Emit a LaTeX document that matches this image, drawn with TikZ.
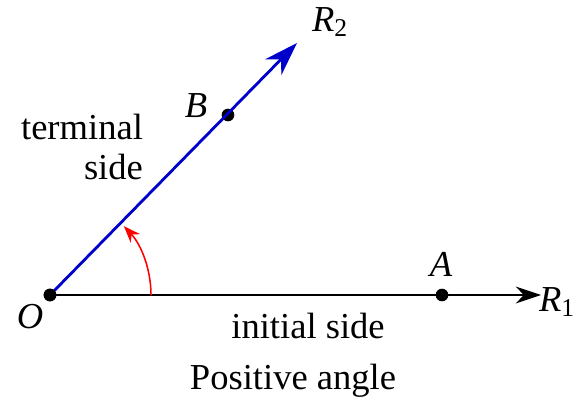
\documentclass[tikz,border=0pt]{standalone}
\usepackage{fontspec}
\setmainfont{Liberation Serif}
\usetikzlibrary{arrows.meta}
\tikzset{
  lbl/.style={font=\fontsize{26}{28}\selectfont},
  pt/.style={circle, fill=black, inner sep=0pt, minimum size=9pt},
}
\begin{document}
\begin{tikzpicture}[x=0.025cm, y=-0.025cm]
\useasboundingbox (0,0) rectangle (577,406);
\coordinate (O) at (50,295);
\coordinate (r1) at (541,295);
\coordinate (r2) at (297,43);
\coordinate (arcA) at (151,295);
\node[pt] (o) at (O) {};
\node[pt] (a) at (442,295) {};
\node[pt] (b) at (228,115) {};

\draw[line width=1.3pt, -{Stealth[length=18pt, width=12pt]}] (O) -- (r1);
\draw[blue!80!black, line width=2pt, -{Stealth[length=24pt, width=16pt]}] (O) -- (r2);
\draw[red, line width=1.1pt, -{Stealth[length=12pt, width=9pt]}] (arcA) arc[start angle=0, end angle=-43, radius=101];
\node[pt] at (O) {};

\node[lbl] (ol) at (30,317) {\textit{O}};
\node[lbl] (al) at (441,264) {\textit{A}};
\node[lbl] (bl) at (196,106) {\textit{B}};
\node[lbl] (r2l) at (330,22) {\textit{R}\textsubscript{2}};
\node[lbl] (r1l) at (557,302) {\textit{R}\textsubscript{1}};
\node[lbl, align=right] (term) at (82,147) {terminal\\side};
\node[lbl] (init) at (308,326) {initial side};
\node[lbl] (pos) at (293,381) {Positive angle};
\end{tikzpicture}
\end{document}
